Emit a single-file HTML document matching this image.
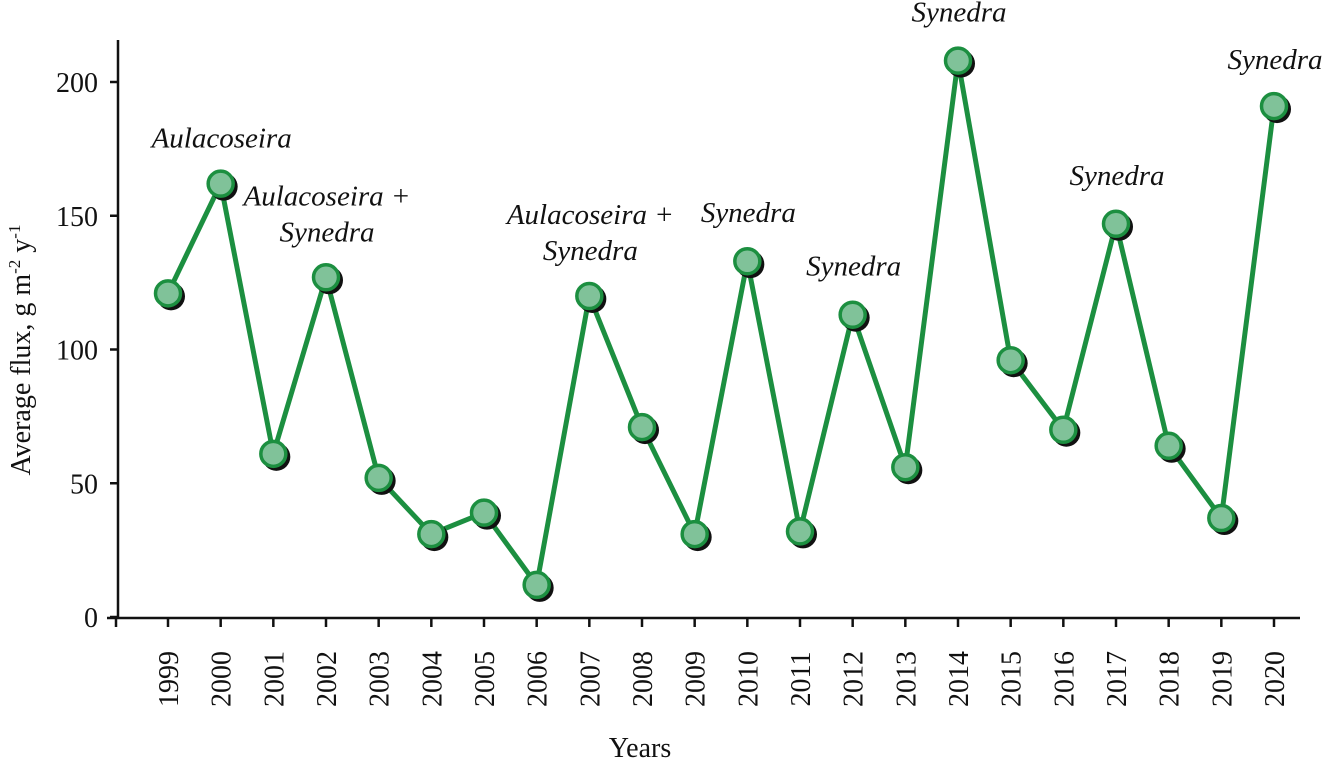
<!DOCTYPE html>
<html><head><meta charset="utf-8"><style>
html,body{margin:0;padding:0;background:#fff;}
svg{display:block;font-family:"Liberation Serif",serif;}
</style></head><body>
<svg id="chart" width="1325" height="761" viewBox="0 0 1325 761">
<g id="axes"></g><g id="series"></g><g id="labels"></g>
</svg>
<script>
const years=[1999,2000,2001,2002,2003,2004,2005,2006,2007,2008,2009,2010,2011,2012,2013,2014,2015,2016,2017,2018,2019,2020];
const flux=[121,162,61,127,52,31,39,12,120,71,31,133,32,113,56,208,96,70,147,64,37,191];
const yTicks=[0,50,100,150,200];
const annotations=[
 {year:2000,lines:["Aulacoseira"],dy:-36},
 {year:2002,lines:["Aulacoseira +","Synedra"],dy:-72},
 {year:2007,lines:["Aulacoseira +","Synedra"],dy:-72},
 {year:2010,lines:["Synedra"],dy:-39},
 {year:2012,lines:["Synedra"],dy:-39},
 {year:2014,lines:["Synedra"],dy:-39},
 {year:2017,lines:["Synedra"],dy:-39},
 {year:2020,lines:["Synedra"],dy:-37}
];
const NS="http://www.w3.org/2000/svg";
const x=yr=>168+(yr-1999)*(1274-168)/21;
const y=v=>617-v*2.675;
function mk(t,a,p){const e=document.createElementNS(NS,t);for(const k in a)e.setAttribute(k,a[k]);p.appendChild(e);return e;}
const ax=document.getElementById('axes'),se=document.getElementById('series'),lb=document.getElementById('labels');
let e=mk('line',{x1:118,y1:40,x2:118,y2:619,stroke:'#111','stroke-width':2.5},ax);

e=mk('line',{x1:107,y1:618,x2:1300,y2:618,stroke:'#111','stroke-width':2.5},ax);

mk('line',{x1:116,y1:618,x2:116,y2:627,stroke:'#111','stroke-width':2.5},ax);
yTicks.forEach(v=>{
 const t=mk('line',{x1:110,y1:y(v),x2:118,y2:y(v),stroke:'#111','stroke-width':2.5},ax);
 
 const l=mk('text',{x:98,y:y(v)+10,'text-anchor':'end','font-size':28,fill:'#111'},ax);l.textContent=v;
 
});
years.forEach(yr=>{
 const t=mk('line',{x1:x(yr),y1:618,x2:x(yr),y2:627,stroke:'#111','stroke-width':2.5},ax);
 
 const l=mk('text',{x:0,y:0,'text-anchor':'middle','font-size':28,fill:'#111',transform:`translate(${x(yr)+10},679) rotate(-90)`},ax);l.textContent=yr;
 
});
e=mk('text',{x:640,y:757,'text-anchor':'middle','font-size':28,fill:'#111'},ax);e.textContent='Years';

e=mk('text',{x:0,y:0,'text-anchor':'middle','font-size':28,fill:'#111',transform:'translate(30,350) rotate(-90)'},ax);
e.innerHTML='Average flux, g m<tspan dy="-10" font-size="17">-2</tspan><tspan dy="10"> y</tspan><tspan dy="-10" font-size="17">-1</tspan>';

const pts=years.map((yr,i)=>x(yr)+','+y(flux[i])).join(' ');
e=mk('polyline',{points:pts,fill:'none',stroke:'#1c8f40','stroke-width':5,'stroke-linejoin':'round'},se);

years.forEach((yr,i)=>{
 const s=mk('circle',{cx:x(yr)+3,cy:y(flux[i])+3,r:14,fill:'#111'},se);
 
 const c=mk('circle',{cx:x(yr),cy:y(flux[i]),r:12.5,fill:'#80c299',stroke:'#1c8f40','stroke-width':3.5},se);
 
});
annotations.forEach(a=>{
 const i=years.indexOf(a.year);const cy=y(flux[i])+a.dy;
 a.lines.forEach((ln,k)=>{
  const t=mk('text',{x:x(a.year)+1,y:cy+k*36,'text-anchor':'middle','font-size':29,'font-style':'italic',fill:'#111'},lb);
  t.textContent=ln;
  
 });
});
</script>
</body></html>
